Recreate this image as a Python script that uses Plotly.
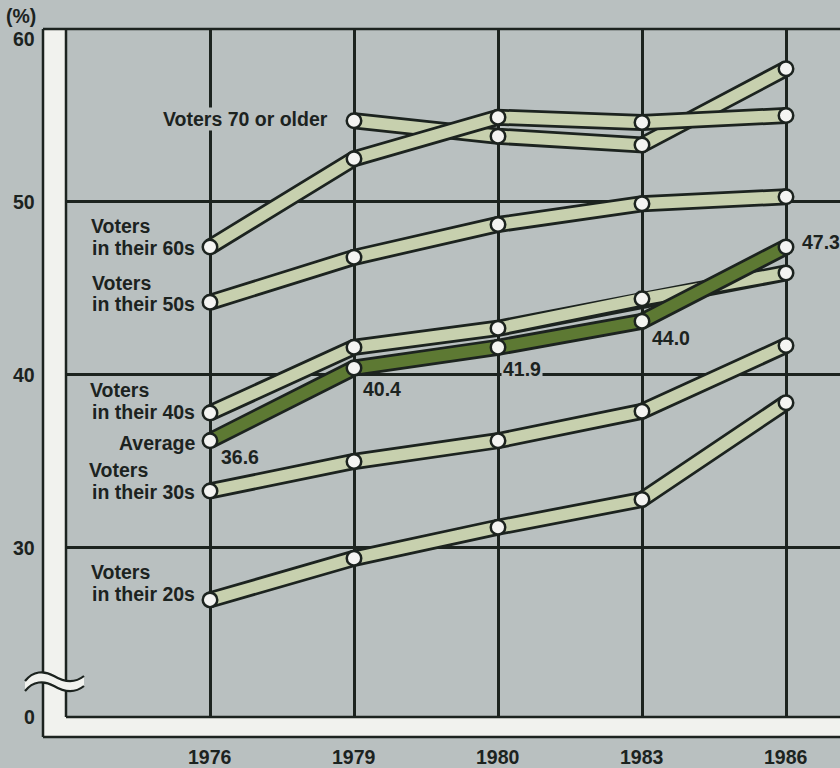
import plotly.graph_objects as go

# ---------------- data ----------------
years = ["1976", "1979", "1980", "1983", "1986"]
voters_70_older = [None, 54.7, 53.8, 53.3, 57.7]
voters_60s = [47.4, 52.5, 54.9, 54.6, 55.0]
voters_50s = [44.2, 46.8, 48.7, 49.9, 50.3]
voters_40s = [37.8, 41.6, 42.7, 44.4, 45.9]
average = [36.2, 40.4, 41.6, 43.1, 47.4]
voters_30s = [33.3, 35.0, 36.2, 37.9, 41.7]
voters_20s = [27.0, 29.4, 31.2, 32.8, 38.4]
average_labels = ["36.6", "40.4", "41.9", "44.0", "47.3"]
y_tick_vals = [60, 50, 40, 30]
y_tick_text = ["60", "50", "40", "30"]
y_zero_text = "0"

# ---------------- style ----------------
W, H = 840, 768
L, R, T, B = 66, 0, 29, 51
PW, PH = W - L - R, H - T - B
YMIN, YMAX = 20.23, 60
BG = "#b9c0c0"
INK = "#1c231f"
LIGHT = "#c7d0ae"
DARK = "#5d7933"
WHITE = "#f1f2ee"
FONT = "Liberation Sans"
FS = 19.5


def px(x, y):
    return (x - L) / PW, (H - B - y) / PH


fig = go.Figure()

series = [
    (voters_20s, LIGHT),
    (voters_30s, LIGHT),
    (voters_40s, LIGHT),
    (voters_50s, LIGHT),
    (voters_70_older, LIGHT),
    (voters_60s, LIGHT),
    (average, DARK),
]
for vals, col in series:
    fig.add_trace(go.Scatter(x=years, y=vals, mode="lines",
                             line=dict(color=INK, width=17),
                             hoverinfo="skip", showlegend=False))
    fig.add_trace(go.Scatter(x=years, y=vals, mode="lines",
                             line=dict(color=col, width=11.5),
                             hoverinfo="skip", showlegend=False))
for vals, col in series:
    fig.add_trace(go.Scatter(x=years, y=vals, mode="markers",
                             marker=dict(size=14.5, color="#f4f4f2",
                                         line=dict(color=INK, width=2.5)),
                             showlegend=False))

shapes = []


def rect(x0, y0, x1, y1, color):
    a0, b0 = px(x0, y0)
    a1, b1 = px(x1, y1)
    shapes.append(dict(type="rect", xref="paper", yref="paper",
                       x0=a0, y0=b0, x1=a1, y1=b1,
                       fillcolor=color, line=dict(width=0), layer="above"))


def hline(x0, x1, y, w=2.5):
    a0, b = px(x0, y)
    a1, _ = px(x1, y)
    shapes.append(dict(type="line", xref="paper", yref="paper",
                       x0=a0, x1=a1, y0=b, y1=b,
                       line=dict(color=INK, width=w), layer="above"))


def vline(x, y0, y1, w=2.5):
    a, b0 = px(x, y0)
    _, b1 = px(x, y1)
    shapes.append(dict(type="line", xref="paper", yref="paper",
                       x0=a, x1=a, y0=b0, y1=b1,
                       line=dict(color=INK, width=w), layer="above"))


# white L-shaped frame band
rect(43, 29, 66, 737, WHITE)
rect(43, 717, 840, 737, WHITE)
hline(43, 840, 29)
hline(43, 840, 737)
hline(66, 840, 717)
vline(43, 29, 737)
vline(66, 29, 717)


# axis break symbol
def pathstr(points, close=False):
    s = ""
    for cmd, pts in points:
        s += cmd + " " + " ".join("%.5f,%.5f" % px(x, y) for x, y in pts) + " "
    return s + ("Z" if close else "")


up = [(25, 681), (33, 671), (44, 670), (54, 676), (64, 682), (74, 684), (84, 676)]
lo = [(x, y + 10) for x, y in up]
fill = [("M", [up[0]]), ("C", up[1:4]), ("C", up[4:7]),
        ("L", [lo[6]]), ("C", [lo[5], lo[4], lo[3]]), ("C", [lo[2], lo[1], lo[0]])]
shapes.append(dict(type="path", xref="paper", yref="paper",
                   path=pathstr(fill, True), fillcolor=WHITE,
                   line=dict(width=0), layer="above"))
for c in (up, lo):
    shapes.append(dict(type="path", xref="paper", yref="paper",
                       path=pathstr([("M", [c[0]]), ("C", c[1:4]), ("C", c[4:7])]),
                       line=dict(color=INK, width=2.2), layer="above"))

ann = []
tf = dict(family=FONT, size=FS, color=INK, weight="bold")


def label(text, x, y, anchor="left", bg=None):
    a, b = px(x, y)
    d = dict(text=text, xref="paper", yref="paper", x=a, y=b,
             xanchor=anchor, yanchor="middle", showarrow=False, font=tf,
             borderpad=0)
    if bg:
        d["bgcolor"] = bg
    ann.append(d)


# y tick labels
for v, t in zip(y_tick_vals, y_tick_text):
    ann.append(dict(text=t, xref="paper", yref="y", x=px(37, 0)[0], y=v,
                    xanchor="right", yanchor="middle", showarrow=False,
                    font=tf, yshift=-10 if v == 60 else 0))
ann.append(dict(text=y_zero_text, xref="paper", yref="y", x=px(37, 0)[0], y=YMIN,
                xanchor="right", yanchor="middle", showarrow=False, font=tf))
label("(%)", 21, 16, "center")

# x tick labels (category index positions)
for i, yr in enumerate(years):
    ann.append(dict(text=yr, xref="x", yref="paper", x=i, y=px(0, 757)[1],
                    xanchor="center", yanchor="middle", showarrow=False, font=tf))

# series labels
label("Voters 70 or older", 329, 119, "right", BG)
label("Voters", 90, 226)
label("in their 60s", 196, 248, "right")
label("Voters", 91, 283)
label("in their 50s", 196, 304, "right")
label("Voters", 89, 390)
label("in their 40s", 196, 412, "right")
label("Average", 196, 443, "right")
label("Voters", 88, 470)
label("in their 30s", 196, 492, "right")
label("Voters", 90, 572)
label("in their 20s", 196, 594, "right")

# average value labels (pixel offsets from markers)
offs = [(9, -16), (7, -21), (3, -22), (8, -17), (14, 5)]
for i, (v, t, (dx, dy)) in enumerate(zip(average, average_labels, offs)):
    d = dict(text=t, xref="x", yref="y", x=i, y=v, xanchor="left",
             yanchor="middle", xshift=dx, yshift=dy, showarrow=False,
             font=tf, borderpad=1)
    if t == "41.9":
        d["bgcolor"] = BG
    ann.append(d)

fig.update_layout(
    width=W, height=H,
    margin=dict(l=L, r=R, t=T, b=B),
    paper_bgcolor=BG, plot_bgcolor=BG,
    xaxis=dict(type="category", range=[-1, 4.375], showgrid=True,
               gridcolor=INK, gridwidth=2.5, showticklabels=False,
               zeroline=False, showline=False, ticks=""),
    yaxis=dict(range=[YMIN, YMAX], tickvals=y_tick_vals, showgrid=True,
               gridcolor=INK, gridwidth=2.5, showticklabels=False,
               zeroline=False, showline=False, ticks=""),
    shapes=shapes, annotations=ann,
    showlegend=False,
)

fig.write_html("out.html")
